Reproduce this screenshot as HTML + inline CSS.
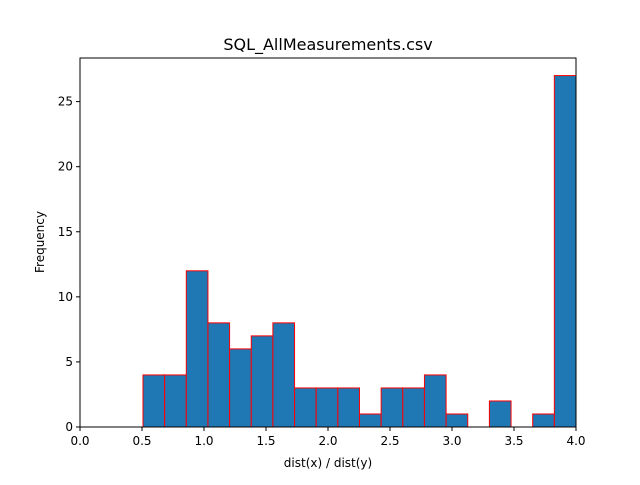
<!DOCTYPE html>
<html><head><meta charset="utf-8"><style>
body{margin:0;background:#fff;}
svg text{font-family:"DejaVu Sans","Liberation Sans",sans-serif;fill:#000;}
</style></head><body>
<svg id="chart" width="640" height="480" viewBox="0 0 640 480">
<rect width="640" height="480" fill="#fff"/>
<text x="328" y="50" font-size="16" text-anchor="middle">SQL_AllMeasurements.csv</text>
<g id="bars"></g>
<g id="xticks"></g>
<g id="yticks"></g>
<rect x="80" y="58" width="496" height="369" fill="none" stroke="#000" stroke-width="1"/>
<text x="328" y="467" font-size="12" text-anchor="middle">dist(x) / dist(y)</text>
<text transform="translate(44,242) rotate(-90)" font-size="12" text-anchor="middle">Frequency</text>
</svg>
<script>
const binStart = 0.508;
const binWidth = 0.1746;
const counts = [4,4,12,8,6,7,8,3,3,3,1,3,3,4,1,0,2,0,1,27];
const xTicks = [0,0.5,1,1.5,2,2.5,3,3.5,4];
const xTickLabels = ["0.0","0.5","1.0","1.5","2.0","2.5","3.0","3.5","4.0"];
const yTicks = [0,5,10,15,20,25];
const yTickLabels = ["0","5","10","15","20","25"];

const NS = "http://www.w3.org/2000/svg";
const X0=80, X1=576, Y0=427, Y1=58;
const xMax=4, yMax=28.35;
const sx = v => X0 + v/xMax*(X1-X0);
const sy = v => Y0 - v/yMax*(Y0-Y1);
function mk(tag, attrs){const e=document.createElementNS(NS,tag);for(const k in attrs)e.setAttribute(k,attrs[k]);return e;}

const bars=document.getElementById('bars');
counts.forEach((c,i)=>{
  if(c<=0) return;
  const a=sx(binStart+i*binWidth), b=sx(binStart+(i+1)*binWidth);
  const r=mk('rect',{x:a,y:sy(c),width:b-a,height:sy(0)-sy(c),fill:'#1f77b4',stroke:'#ff0000','stroke-width':1});
  
  
  bars.appendChild(r);
});
const xg=document.getElementById('xticks');
xTicks.forEach((t,i)=>{
  const x=sx(t);
  const l=mk('line',{x1:x,x2:x,y1:Y0,y2:Y0+4,stroke:'#000'});
  
  
  xg.appendChild(l);
  const tx=mk('text',{x:x,y:Y0+18,'font-size':12,'text-anchor':'middle'});
  tx.textContent=xTickLabels[i];
  
  
  xg.appendChild(tx);
});
const yg=document.getElementById('yticks');
yTicks.forEach((t,i)=>{
  const y=sy(t);
  const l=mk('line',{x1:X0-4,x2:X0,y1:y,y2:y,stroke:'#000'});
  
  
  yg.appendChild(l);
  const tx=mk('text',{x:X0-7,y:y+4,'font-size':12,'text-anchor':'end'});
  tx.textContent=yTickLabels[i];
  
  
  yg.appendChild(tx);
});
</script>
</body></html>
